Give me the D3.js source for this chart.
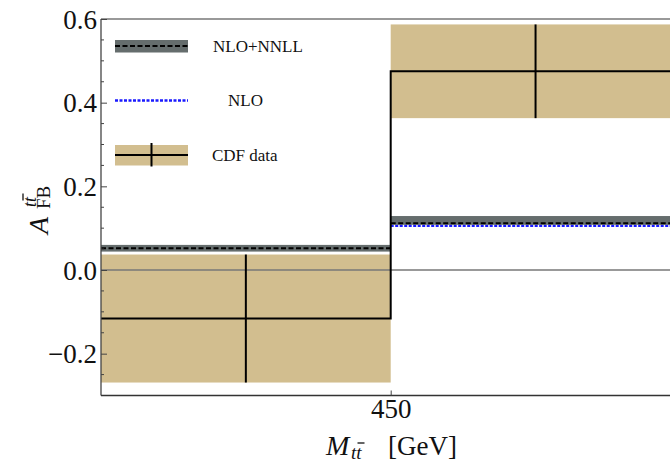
<!DOCTYPE html>
<html><head><meta charset="utf-8">
<script src="https://cdn.jsdelivr.net/npm/d3@7"></script>
<style>
html,body{margin:0;padding:0;background:#fff;}
svg{display:block;font-family:"Liberation Serif","Times New Roman",serif;}
</style></head>
<body>
<svg id="chart" width="670" height="463"></svg>
<script>
// ---- data ----
const binEdges = [350, 450, 550];           // M_tt bins [GeV]
const binCenters = [400, 500];
const cdfCentral = [-0.116, 0.475];
const cdfErr = [0.153, 0.112];
const nnllCentral = [0.052, 0.112];
const nnllLow = [0.044, 0.108];
const nnllHigh = [0.060, 0.129];
const nloCentral = [0.050, 0.106];
const yMajorTicks = [-0.2, 0.0, 0.2, 0.4, 0.6];
const yTickLabels = ["\u22120.2", "0.0", "0.2", "0.4", "0.6"];
const xTicks = [450];
const xTickLabels = ["450"];
const legendLabels = ["NLO+NNLL", "NLO", "CDF data"];

// ---- layout ----
const svg = d3.select("#chart");
const x = d3.scaleLinear().domain([350, 550]).range([101, 680.4]);
const y = d3.scaleLinear().domain([-0.3, 0.6]).range([395.5, 19]);
const tan = "#d2be8f", band = "#656d6d", blue = "#1a1aff";

const bins = binCenters.map((c, i) => ({x0: binEdges[i], x1: binEdges[i+1], c}));

// CDF bands
svg.append("g").selectAll("rect").data(bins).join("rect")
  .attr("x", d => x(d.x0)).attr("width", d => x(d.x1) - x(d.x0))
  .attr("y", (d, i) => y(cdfCentral[i] + cdfErr[i]))
  .attr("height", (d, i) => y(cdfCentral[i] - cdfErr[i]) - y(cdfCentral[i] + cdfErr[i]))
  .attr("fill", tan);

// zero line
svg.append("line").attr("x1", x(350)).attr("x2", 670).attr("y1", y(0)).attr("y2", y(0))
  .attr("stroke", "#777").attr("stroke-width", 1.3);

// NLO (blue dotted)
svg.append("g").selectAll("line").data(bins).join("line")
  .attr("x1", d => x(d.x0)).attr("x2", d => x(d.x1))
  .attr("y1", (d, i) => y(nloCentral[i])).attr("y2", (d, i) => y(nloCentral[i]))
  .attr("stroke", blue).attr("stroke-width", 2.5).attr("stroke-dasharray", "3,1.5");

// NLO+NNLL bands
svg.append("g").selectAll("rect").data(bins).join("rect")
  .attr("x", d => x(d.x0)).attr("width", d => x(d.x1) - x(d.x0))
  .attr("y", (d, i) => y(nnllHigh[i]))
  .attr("height", (d, i) => y(nnllLow[i]) - y(nnllHigh[i]))
  .attr("fill", band);
svg.append("g").selectAll("line").data(bins).join("line")
  .attr("x1", d => x(d.x0)).attr("x2", d => x(d.x1))
  .attr("y1", (d, i) => y(nnllCentral[i])).attr("y2", (d, i) => y(nnllCentral[i]))
  .attr("stroke", "#000").attr("stroke-width", 2).attr("stroke-dasharray", "5,2.5");

// CDF step line
const stepPts = [];
bins.forEach((d, i) => { stepPts.push([d.x0, cdfCentral[i]]); stepPts.push([d.x1, cdfCentral[i]]); });
svg.append("path").attr("d", d3.line().x(d => x(d[0])).y(d => y(d[1]))(stepPts))
  .attr("fill", "none").attr("stroke", "#000").attr("stroke-width", 2);
// CDF error bars
svg.append("g").selectAll("line").data(bins).join("line")
  .attr("x1", d => x(d.c)).attr("x2", d => x(d.c))
  .attr("y1", (d, i) => y(cdfCentral[i] + cdfErr[i])).attr("y2", (d, i) => y(cdfCentral[i] - cdfErr[i]))
  .attr("stroke", "#000").attr("stroke-width", 2);

// ---- frame / axes ----
svg.append("line").attr("x1", x(350)).attr("x2", 670).attr("y1", y(0.6)).attr("y2", y(0.6))
  .attr("stroke", "#777").attr("stroke-width", 1.3);
const yMinor = d3.range(-6, 13).map(k => k * 0.05).filter(v => !yMajorTicks.some(m => Math.abs(m - v) < 1e-9));
const yAxis = d3.axisLeft(y).tickValues(yMajorTicks).tickSize(-6).tickPadding(4)
  .tickFormat((d, i) => yTickLabels[i]);
const gy = svg.append("g").attr("transform", `translate(${x(350)},0)`).call(yAxis);
gy.select(".domain").attr("stroke", "#444").attr("stroke-width", 1.3).attr("d", `M0,${y(-0.3)}V${y(0.6)}`);
gy.selectAll(".tick line").attr("stroke", "#444").attr("stroke-width", 1);
gy.selectAll(".tick text").attr("font-size", 27).attr("font-family", "Liberation Serif").attr("fill", "#111").attr("dy", "0.34em");
svg.append("g").attr("transform", `translate(${x(350)},0)`).selectAll("line").data(yMinor).join("line")
  .attr("x1", 0).attr("x2", 3).attr("y1", d => y(d)).attr("y2", d => y(d))
  .attr("stroke", "#444").attr("stroke-width", 1);

const xAxis = d3.axisBottom(x).tickValues(xTicks).tickSize(-5).tickPadding(3)
  .tickFormat((d, i) => xTickLabels[i]);
const gx = svg.append("g").attr("transform", `translate(0,${y(-0.3)})`).call(xAxis);
gx.select(".domain").attr("stroke", "#333").attr("stroke-width", 1.3).attr("d", `M${x(350)},0H670`);
gx.selectAll(".tick line").attr("stroke", "#444").attr("stroke-width", 1);
gx.selectAll(".tick text").attr("font-size", 27).attr("font-family", "Liberation Serif").attr("fill", "#111").attr("dy", "0.71em");

// x-axis title
const xt = svg.append("g").attr("fill", "#111");
xt.append("text").attr("x", 326).attr("y", 455).attr("font-size", 28).attr("font-style", "italic").text("M");
xt.append("text").attr("x", 351).attr("y", 459).attr("font-size", 19).attr("font-style", "italic").text("tt");
xt.append("line").attr("x1", 357.5).attr("x2", 364.5).attr("y1", 443).attr("y2", 443).attr("stroke", "#111").attr("stroke-width", 1.3);
xt.append("text").attr("x", 388).attr("y", 455).attr("font-size", 27).text("[GeV]");

// y-axis title (rotated)
const yt = svg.append("g").attr("transform", "translate(48,234) rotate(-90)").attr("fill", "#111");
yt.append("text").attr("x", 0).attr("y", 0).attr("font-size", 28).attr("font-style", "italic").text("A");
yt.append("text").attr("x", 25).attr("y", 2).attr("font-size", 19).text("FB");
yt.append("text").attr("x", 27).attr("y", -12).attr("font-size", 18).attr("font-style", "italic").text("tt");
yt.append("line").attr("x1", 33.5).attr("x2", 40.5).attr("y1", -25).attr("y2", -25).attr("stroke", "#111").attr("stroke-width", 1.3);

// ---- legend ----
const lg = svg.append("g");
const lx0 = 115, lx1 = 188;
lg.append("rect").attr("x", lx0).attr("y", 40).attr("width", lx1 - lx0).attr("height", 12.5).attr("fill", band);
lg.append("line").attr("x1", lx0).attr("x2", lx1).attr("y1", 46).attr("y2", 46)
  .attr("stroke", "#000").attr("stroke-width", 2).attr("stroke-dasharray", "5,2.5");
lg.append("line").attr("x1", lx0).attr("x2", lx1).attr("y1", 100.5).attr("y2", 100.5)
  .attr("stroke", blue).attr("stroke-width", 2.5).attr("stroke-dasharray", "3,1.5");
lg.append("rect").attr("x", lx0).attr("y", 145).attr("width", lx1 - lx0).attr("height", 20.5).attr("fill", tan);
lg.append("line").attr("x1", lx0).attr("x2", lx1).attr("y1", 155).attr("y2", 155).attr("stroke", "#000").attr("stroke-width", 2);
lg.append("line").attr("x1", 151.5).attr("x2", 151.5).attr("y1", 143).attr("y2", 166.5).attr("stroke", "#000").attr("stroke-width", 2);
const legPos = [[213, 52], [228, 106], [212, 161]];
lg.selectAll("text").data(legendLabels).join("text")
  .attr("x", (d, i) => legPos[i][0]).attr("y", (d, i) => legPos[i][1])
  .attr("font-size", 17).attr("fill", "#111").text(d => d);
</script>
</body></html>
